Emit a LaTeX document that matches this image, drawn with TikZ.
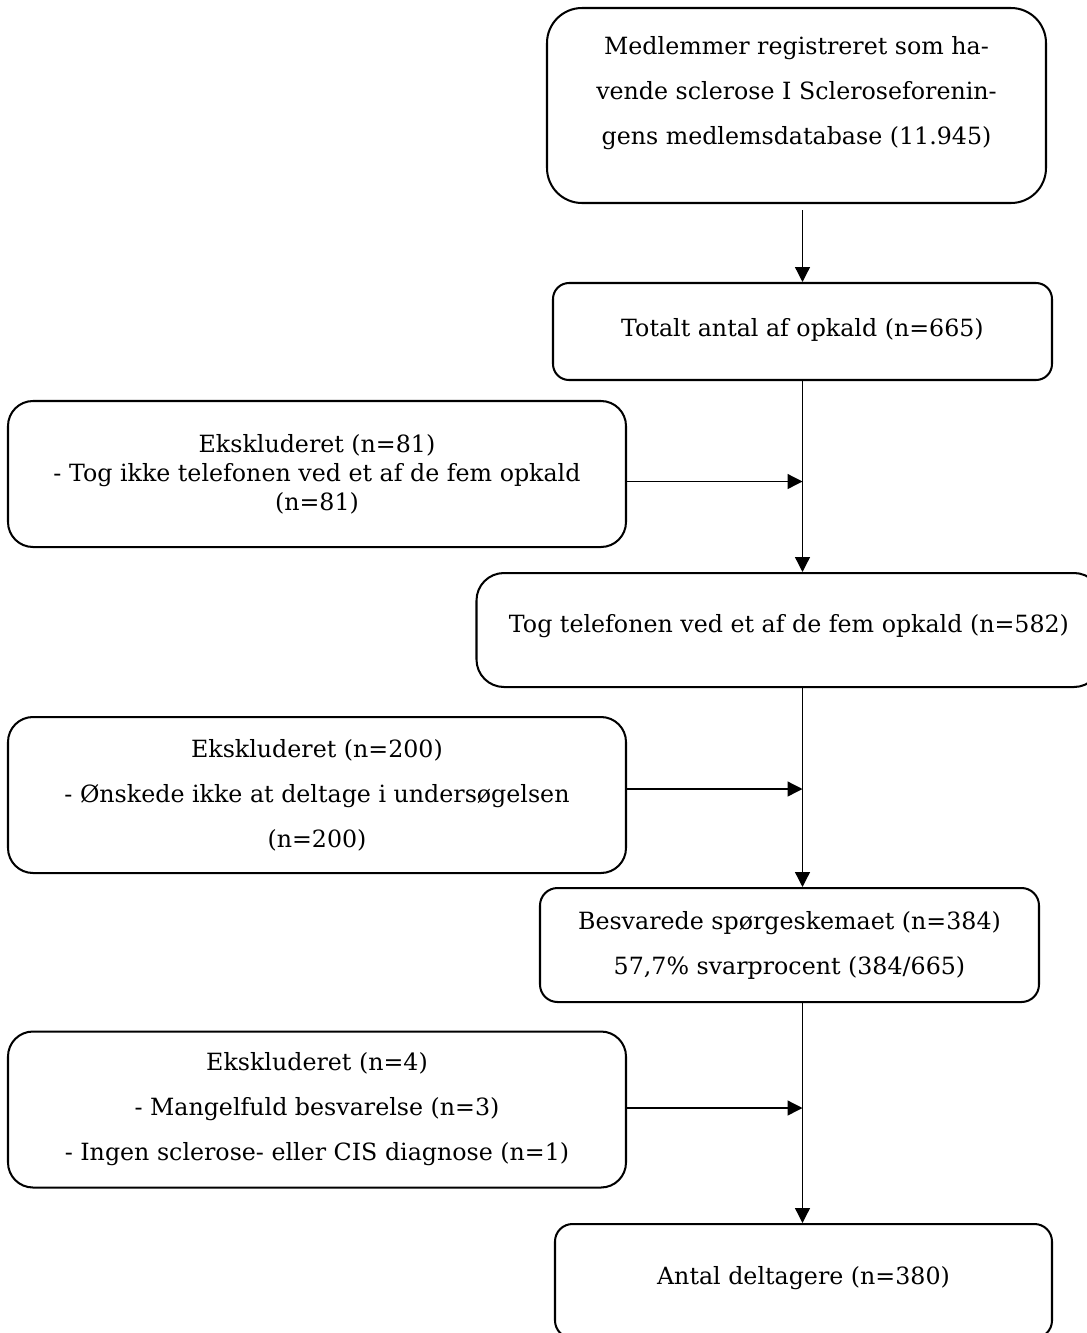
\documentclass[tikz,border=0pt]{standalone}
\usepackage{fontspec}
\setmainfont{DejaVu Serif}
\usetikzlibrary{arrows.meta,positioning,calc}
\definecolor{Ink}{HTML}{000000}

% zero-width strut that pushes the text up inside a tall box
\newcommand{\liftby}[1]{\rule[-#1]{0pt}{#1}}

\tikzset{
  flowbox/.style={draw=Ink,line width=1.15pt,align=center,inner sep=0pt,
    text=Ink,font=\fontsize{13.5}{25.6}\selectfont},
  leftbox/.style={flowbox,rounded corners=0.5cm,minimum width=12.36cm},
  flowline/.style={Ink,line width=0.75pt}
}

\begin{document}
\begin{tikzpicture}[x=1cm,y=1cm,>={Triangle[length=8.5pt,width=8.5pt]}]
\useasboundingbox (0,0) rectangle (21.74,-26.66);

% main column
\node[flowbox,rounded corners=0.7cm,minimum width=9.98cm,minimum height=3.90cm] (reg) at (15.93,-2.11)
  {Medlemmer registreret som ha-\\vende sclerose I Scleroseforenin-\\gens medlemsdatabase (11.945)\liftby{0.62cm}};
\node[flowbox,rounded corners=0.32cm,minimum width=9.98cm,minimum height=1.94cm] (calls) at (16.05,-6.63)
  {Totalt antal af opkald (n=665)\liftby{0.18cm}};
\node[flowbox,rounded corners=0.55cm,minimum width=12.5cm,minimum height=2.28cm] (answered) at (15.78,-12.60)
  {Tog telefonen ved et af de fem opkald (n=582)\liftby{0.28cm}};
\node[flowbox,rounded corners=0.35cm,minimum width=9.98cm,minimum height=2.28cm] (survey) at (15.79,-18.90)
  {Besvarede spørgeskemaet (n=384)\\57,7\% svarprocent (384/665)};
\node[flowbox,rounded corners=0.35cm,minimum width=9.94cm,minimum height=2.28cm] (final) at (16.07,-25.62)
  {Antal deltagere (n=380)\liftby{0.24cm}};

% exclusions
\node[leftbox,minimum height=2.92cm,font=\fontsize{13.5}{16.5}\selectfont] (ex1) at (6.34,-9.48)
  {Ekskluderet (n=81)\\- Tog ikke telefonen ved et af de fem opkald\\(n=81)};
\node[leftbox,minimum height=3.12cm] (ex2) at (6.34,-15.90)
  {Ekskluderet (n=200)\\- Ønskede ikke at deltage i undersøgelsen\\(n=200)};
\node[leftbox,minimum height=3.12cm] (ex3) at (6.34,-22.19)
  {Ekskluderet (n=4)\\- Mangelfuld besvarelse (n=3)\\- Ingen sclerose- eller CIS diagnose (n=1)};

\coordinate (axis) at (16.05,0);
\coordinate (j1) at (16.05,-9.63);
\coordinate (j2) at (16.05,-15.78);
\coordinate (j3) at (16.05,-22.16);

\draw[->,flowline,shorten <=0.12cm] (reg.south -| axis) -- (calls.north -| axis);
\draw[->,flowline] (calls.south -| axis) -- (answered.north -| axis);
\draw[->,flowline] (answered.south -| axis) -- (survey.north -| axis);
\draw[->,flowline] (survey.south -| axis) -- (final.north -| axis);

\draw[->,flowline] (ex1.east |- j1) -- (j1);
\draw[->,flowline] (ex2.east |- j2) -- (j2);
\draw[->,flowline] (ex3.east |- j3) -- (j3);
\end{tikzpicture}
\end{document}
